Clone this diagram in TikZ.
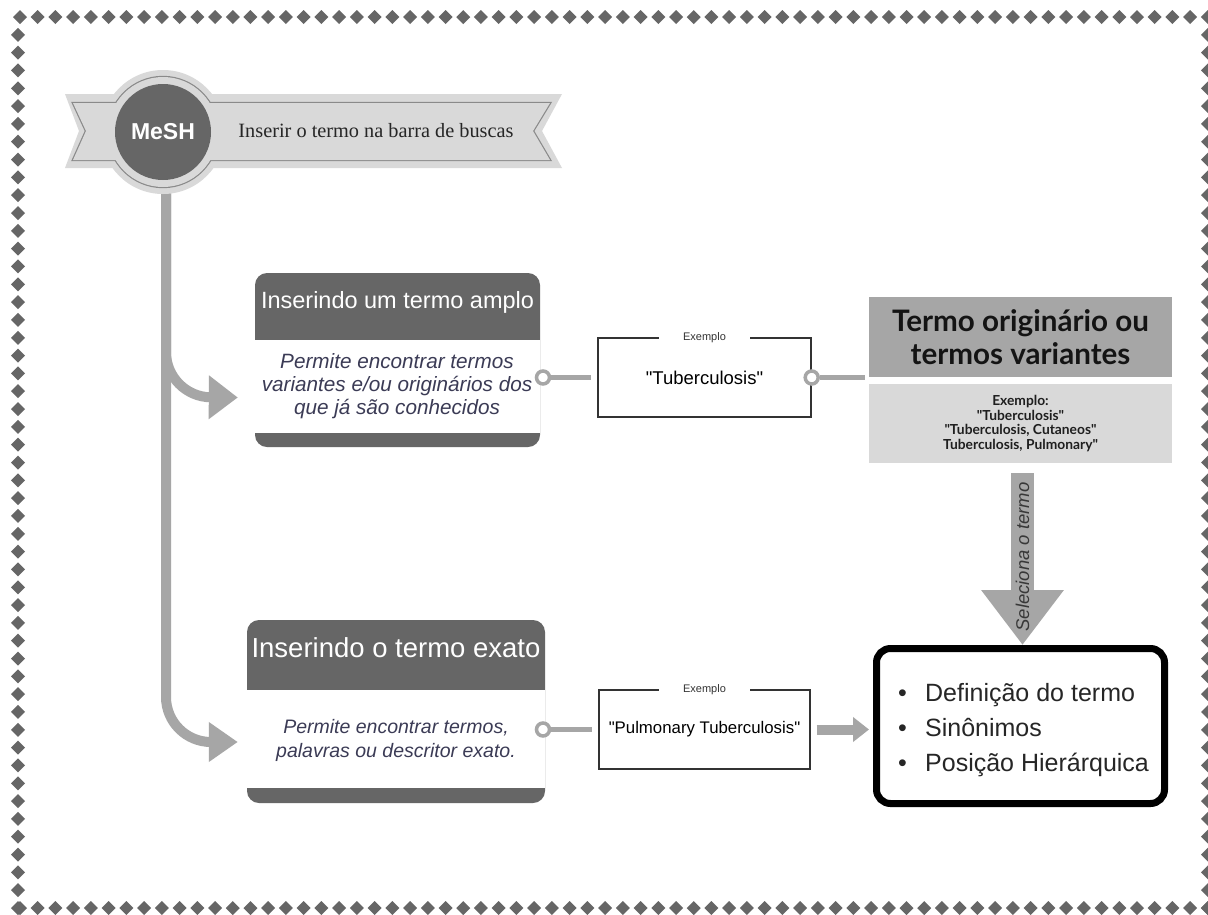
\documentclass[tikz,border=0pt]{standalone}
\usepackage{fontspec}
\setmainfont{Liberation Sans}
\newfontfamily\arial{Liberation Sans}
\newfontfamily\ribbonfont{Liberation Serif}
\newfontfamily\latofont{Lato}
\usetikzlibrary{arrows.meta,calc}
\definecolor{dkg}{HTML}{666666}
\definecolor{ribg}{HTML}{D9D9D9}
\definecolor{outl}{HTML}{8A8A8A}
\definecolor{conng}{HTML}{A6A6A6}
\definecolor{bodyc}{HTML}{3B3B55}
\definecolor{exb}{HTML}{333333}
\tikzset{
  diam/.style={fill=dkg},
  hdrtxt/.style={text=white, inner sep=0pt},
  bodytxt/.style={text=bodyc, align=center, inner sep=0pt},
  ring/.style={circle, draw=conng, line width=3.5pt, fill=white, minimum size=13pt, inner sep=0pt},
  connline/.style={draw=conng, line width=5pt},
  stem/.style={draw=conng, line width=10pt},
  exbox/.style={draw=exb, line width=1.4pt, inner sep=0pt},
  exlab/.style={fill=white, text=exb, font=\fontsize{11}{12}\selectfont, minimum width=91pt, inner ysep=1pt},
}
\begin{document}
\begin{tikzpicture}[x=1pt,y=-1pt]
\useasboundingbox[fill=white] (0,0) rectangle (1208,914);
% diamond border
\foreach \i in {0,...,67}{
  \pgfmathsetmacro\xx{20+17.73*\i}
  \fill[diam] (\xx-7,17) -- (\xx,10) -- (\xx+7,17) -- (\xx,24) -- cycle;
  \fill[diam] (\xx-7,908) -- (\xx,901) -- (\xx+7,908) -- (\xx,915) -- cycle;
}
\foreach \j in {1,...,50}{
  \pgfmathsetmacro\yy{17+17.82*\j}
  \fill[diam] (11,\yy) -- (18,\yy-7) -- (25,\yy) -- (18,\yy+7) -- cycle;
  \fill[diam] (1201,\yy) -- (1208,\yy-7) -- (1215,\yy) -- (1208,\yy+7) -- cycle;
}

% boxes (named nodes first)
\fill[dkg, rounded corners=12pt] (255,273) rectangle (540,447);
\node[fill=white, minimum width=285pt, minimum height=93pt, inner sep=0pt] (b1) at (397.5,386.5) {};
\node[hdrtxt, font=\fontsize{23.5}{26}\selectfont] (b1t) at (397.5,302) {Inserindo um termo amplo};
\node[bodytxt, font=\itshape\fontsize{20.7}{23}\selectfont] (b1x) at (397,386) {Permite encontrar termos\\variantes e/ou originários dos\\que já são conhecidos};

\fill[dkg, rounded corners=12pt] (247,620) rectangle (545,803);
\node[fill=white, minimum width=298pt, minimum height=98pt, inner sep=0pt] (b2) at (396,739) {};
\node[hdrtxt, font=\fontsize{27.5}{30}\selectfont] (b2t) at (396,648) {Inserindo o termo exato};
\node[bodytxt, font=\itshape\fontsize{19.5}{24}\selectfont] (b2x) at (396,740) {Permite encontrar termos,\\palavras ou descritor exato.};

% stem and branches
\coordinate (a1) at ($(b1.west)+(-17,11)$);
\coordinate (a2) at ($(b2.west)+(-9,3)$);
\draw[stem, rounded corners=45pt, -{Triangle[width=42pt,length=29pt]}] (166,185) -- (166,397) -- (a1);
\draw[stem, rounded corners=45pt, -{Triangle[width=38pt,length=29pt]}] (166,185) -- (166,742) -- (a2);

% ribbon
\fill[ribg] (65,94) -- (562,94) -- (542,131) -- (562,168) -- (65,168) -- (79,131) -- cycle;
\fill[ribg] (163,132) circle (62pt);
\draw[outl, line width=2.4pt] (73,103) -- (550,103) -- (533,131) -- (550,160) -- (73,160) -- (86,131) -- cycle;
\draw[outl, line width=2.4pt] (163,132) circle (55pt);
\fill[ribg] (73,103) -- (550,103) -- (533,131) -- (550,160) -- (73,160) -- (86,131) -- cycle;
\fill[ribg] (163,132) circle (55pt);
\node[circle, fill=dkg, minimum size=96pt, inner sep=0pt, text=white, font=\bfseries\fontsize{23}{26}\selectfont] (mesh) at (163,132) {MeSH};
\node[font=\ribbonfont\fontsize{20.3}{22}\selectfont, text=black!85, inner sep=0pt] (rib) at (376,131) {Inserir o termo na barra de buscas};

% example boxes
\node[exbox, minimum width=213pt, minimum height=79pt, font=\arial\fontsize{18.5}{22}\selectfont] (ex1) at (704.5,377.5) {"Tuberculosis"};
\node[exlab] (ex1l) at (ex1.north) {Exemplo};
\node[exbox, minimum width=211pt, minimum height=79pt, font=\arial\fontsize{16.8}{20}\selectfont] (ex2) at (704.5,729.5) {"Pulmonary Tuberculosis"};
\node[exlab] (ex2l) at (ex2.north) {Exemplo};

% rings and connectors
\node[ring] (r1) at (543,377.5) {};
\draw[connline] (r1) -- ($(ex1.west)+(-6,0)$);
\node[ring] (r2) at (ex1.east) {};
\coordinate (r2end) at (865,377.5);
\draw[connline] (r2) -- (r2end);
\node[ring] (r3) at (543,729.5) {};
\draw[connline] (r3) -- ($(ex2.west)+(-6,0)$);

% termo box
\node[fill=conng, minimum width=303pt, minimum height=80pt, inner sep=0pt, align=center, font=\latofont\bfseries\fontsize{29.6}{33}\selectfont, text=black!92] (tv1) at (1020.5,337) {Termo originário ou\\termos variantes};
\node[fill=ribg, minimum width=303pt, minimum height=79pt, inner sep=0pt, align=center, font=\latofont\bfseries\fontsize{13.8}{14.8}\selectfont, text=black!88] (tv2) at (1020.5,423.5) {Exemplo:\\"Tuberculosis"\\"Tuberculosis, Cutaneos"\\Tuberculosis, Pulmonary"};

% final box
\node[draw=black, line width=7pt, rounded corners=14pt, minimum width=288pt, minimum height=155pt, inner sep=0pt] (fin) at (1020.5,726) {};
\node[anchor=west, align=left, inner sep=0pt, text=black!85, font=\fontsize{25}{35}\selectfont] (finx) at (898,730) {\makebox[27pt][l]{•}Definição do termo\\\makebox[27pt][l]{•}Sinônimos\\\makebox[27pt][l]{•}Posição Hierárquica};

% arrows to final box
\draw[draw=conng, line width=23pt, -{Triangle[width=79pt,length=55pt]}] ($(tv2.south)+(2,10)$) -- ($(fin.north)+(2,0)$);
\node[rotate=90, text=black!78, font=\itshape\fontsize{18.5}{20}\selectfont, inner sep=0pt] (sel) at (1022.5,557) {Seleciona o termo};
\coordinate (fa) at (fin.west |- ex2.east);
\draw[draw=conng, line width=10pt, -{Triangle[width=24pt,length=16pt]}] ($(ex2.east)+(6,0)$) -- ($(fa)+(-4,0)$);
\end{tikzpicture}
\end{document}
